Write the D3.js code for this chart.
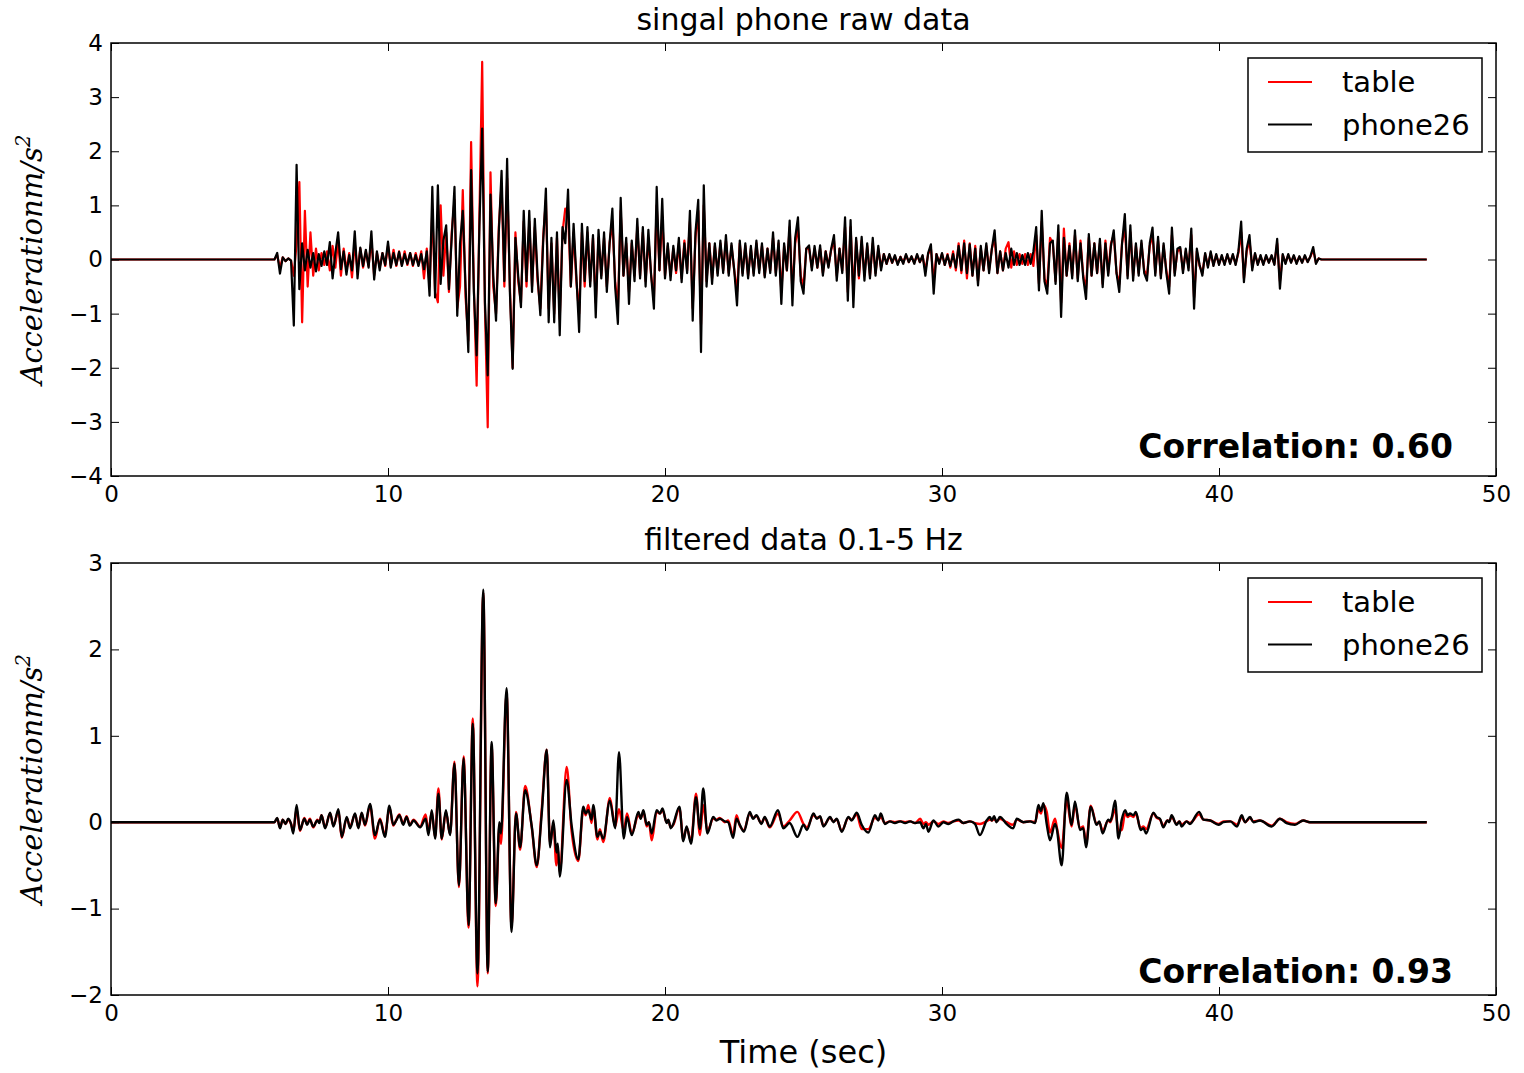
<!DOCTYPE html>
<html>
<head>
<meta charset="utf-8">
<script src="https://cdn.jsdelivr.net/npm/d3@7"></script>
<style>
body { margin: 0; background: #fff; }
text { font-family: "DejaVu Sans", sans-serif; fill: #000; }
</style>
</head>
<body>
<div id="myDiv"></div>
<script>
var recordStart = 0, recordEnd = 47.5;
var seriesNames = ["table", "phone26"];
var panelTitles = ["singal phone raw data", "filtered data 0.1-5 Hz"];
var correlations = ["0.60", "0.93"];
var xTicks = [0, 10, 20, 30, 40, 50];
var rawYTicks = [-4, -3, -2, -1, 0, 1, 2, 3, 4];
var filtYTicks = [-2, -1, 0, 1, 2, 3];

// raw signal, one value every 0.1 s from 6.0 s to 43.6 s (flat before and after)
var rawStart = 6.0, rawStep = 0.1;
var rawTable = [
  0.08, -0.15, 0.04, -0.03, 0.02, -0.02, -0.3, 0.3, 1.43, -1.16,
  0.9, -0.5, 0.5, -0.3, 0.2, -0.2, 0.12, -0.1, 0.15, -0.2,
  0.25, -0.15, 0.35, -0.3, 0.2, -0.2, 0.12, -0.33, 0.3, -0.2,
  0.2, -0.15, 0.15, -0.12, 0.35, -0.3, 0.12, -0.15, 0.12, -0.12,
  0.25, -0.12, 0.18, -0.12, 0.15, -0.1, 0.15, -0.1, 0.12, -0.12,
  0.12, -0.1, 0.15, -0.35, 0.2, -0.5, 0.9, -0.6, -0.79, 1.0,
  -0.3, 0.5, -0.6, 0.5, 1.1, -0.9, -0.5, 1.28, -0.7, -1.5,
  2.17, -0.5, -2.33, 0.8, 3.65, -0.9, -3.1, 1.61, -0.5, -1.0,
  0.6, 1.4, -0.5, 1.5, -0.5, -2.0, 0.5, -0.4, -0.8, 0.7,
  -0.5, 0.7, -0.5, 0.6, -0.4, -0.9, 0.4, 1.1, -0.9, 0.3,
  -1.0, 0.4, -1.1, 0.5, 0.94, 0.9, -0.5, 0.5, -0.4, -1.0,
  0.5, -0.5, 0.5, -0.4, 0.4, -0.8, 0.4, -0.3, 0.4, -0.5,
  0.3, 0.7, -0.4, -0.9, 0.9, -0.3, 0.3, -0.6, 0.3, -0.3,
  0.6, -0.3, 0.5, -0.4, 0.4, -0.3, -0.7, 1.0, -0.2, 0.8,
  -0.3, 0.25, -0.3, 0.2, -0.25, 0.3, -0.35, 0.35, -0.2, 0.7,
  -0.9, 0.4, 0.9, -1.2, 1.0, -0.4, 0.3, -0.35, 0.25, -0.25,
  0.3, -0.2, 0.35, -0.25, 0.25, -0.2, -0.6, 0.3, -0.25, 0.25,
  -0.3, 0.2, -0.25, 0.3, -0.2, 0.25, -0.3, 0.2, -0.2, 0.4,
  -0.25, 0.3, -0.6, 0.25, -0.2, 0.6, -0.6, 0.3, 0.6, -0.3,
  -0.5, 0.2, 0.2, -0.15, 0.2, -0.15, 0.2, -0.25, 0.15, -0.12,
  0.18, 0.35, -0.3, 0.2, -0.2, 0.6, -0.6, 0.6, -0.6, 0.35,
  -0.35, 0.35, -0.3, 0.25, -0.3, 0.3, -0.25, 0.2, -0.15, 0.1,
  -0.08, 0.08, -0.06, 0.06, -0.08, 0.05, -0.06, 0.08, -0.05, 0.05,
  -0.06, 0.08, -0.05, 0.06, -0.2, 0.1, 0.2, -0.4, 0.1, -0.06,
  0.1, -0.1, 0.1, -0.15, 0.15, -0.2, 0.3, -0.25, 0.35, -0.35,
  0.3, -0.3, 0.25, -0.4, 0.2, -0.2, 0.25, -0.2, 0.2, 0.4,
  -0.25, 0.15, -0.2, 0.2, 0.32, -0.15, 0.15, -0.1, 0.1, -0.08,
  0.1, -0.1, 0.1, -0.12, 0.45, -0.45, 0.7, -0.35, -0.5, 0.4,
  0.3, -0.4, 0.5, -0.8, 0.57, -0.3, 0.3, -0.3, 0.45, -0.35,
  0.35, -0.3, -0.55, 0.4, -0.3, 0.3, -0.25, 0.3, -0.45, 0.35,
  -0.25, 0.3, 0.45, -0.25, -0.45, 0.3, 0.6, -0.3, 0.5, -0.3,
  0.25, -0.25, 0.3, -0.2, -0.3, 0.25, 0.45, -0.25, 0.35, -0.3,
  0.25, -0.2, -0.5, 0.45, -0.25, 0.15, 0.2, -0.2, 0.15, -0.15,
  0.45, -0.7, 0.15, -0.12, -0.25, 0.1, -0.12, 0.12, -0.1, 0.08,
  -0.08, 0.06, -0.08, 0.08, -0.06, 0.08, -0.08, 0.12, 0.5, -0.35,
  0.15, 0.35, -0.15, 0.1, -0.08, 0.06, -0.08, 0.06, -0.05, 0.06,
  -0.08, 0.3, -0.4, 0.08, -0.06, 0.08, -0.05, 0.06, -0.06, 0.05,
  -0.05, 0.06, -0.04, 0.05, 0.18, -0.06, 0.02
];
var rawPhone = [
  0.12, -0.26, 0.04, -0.03, 0.02, -0.02, -1.22, 1.75, -0.55, 0.3,
  -0.2, 0.18, -0.15, 0.12, -0.22, 0.1, -0.12, 0.15, -0.1, 0.32,
  -0.35, 0.12, 0.5, -0.18, 0.15, -0.28, 0.08, -0.2, 0.52, -0.35,
  0.22, -0.12, 0.18, -0.15, 0.52, -0.37, 0.15, -0.2, 0.12, -0.1,
  0.33, -0.15, 0.12, -0.1, 0.14, -0.12, 0.1, -0.08, 0.12, -0.1,
  0.08, -0.12, 0.1, -0.18, 0.15, -0.67, 1.34, -0.7, 1.37, -0.45,
  0.35, 0.63, -0.55, 0.4, 1.34, -1.04, 0.3, 0.9, -0.5, -1.71,
  1.65, -0.6, -1.77, 0.6, 2.42, -0.8, -2.14, 1.2, -0.3, -1.13,
  0.5, 1.64, -0.4, 1.86, -0.6, -2.02, 0.4, -0.3, -0.88, 0.9,
  -0.4, 0.9, -0.6, 0.75, -0.3, -1.03, 0.3, 1.31, -1.16, 0.4,
  -1.16, 0.5, -1.4, 0.6, 0.3, 1.29, -0.5, 0.66, -0.3, -1.34,
  0.66, -0.4, 0.6, -0.5, 0.45, -1.07, 0.55, -0.35, 0.5, -0.6,
  0.3, 0.94, -0.5, -1.19, 1.14, -0.3, 0.4, -0.82, 0.35, -0.4,
  0.75, -0.35, 0.6, -0.5, 0.55, -0.3, -0.91, 1.34, -0.2, 1.12,
  -0.35, 0.3, -0.38, 0.25, -0.2, 0.4, -0.42, 0.3, -0.25, 0.9,
  -1.13, 0.5, 1.1, -1.71, 1.37, -0.5, 0.3, -0.45, 0.3, -0.3,
  0.35, -0.25, 0.45, -0.3, 0.3, -0.2, -0.85, 0.35, -0.3, 0.3,
  -0.35, 0.25, -0.3, 0.35, -0.25, 0.3, -0.33, 0.2, -0.25, 0.5,
  -0.3, 0.35, -0.82, 0.3, -0.2, 0.72, -0.85, 0.4, 0.78, -0.4,
  -0.63, 0.2, 0.26, -0.2, 0.25, -0.15, 0.26, -0.3, 0.15, -0.15,
  0.2, 0.45, -0.39, 0.2, -0.25, 0.78, -0.76, 0.73, -0.88, 0.4,
  -0.3, 0.42, -0.39, 0.3, -0.35, 0.4, -0.3, 0.25, -0.2, 0.1,
  -0.08, 0.1, -0.06, 0.08, -0.1, 0.05, -0.08, 0.1, -0.05, 0.06,
  -0.08, 0.1, -0.05, 0.08, -0.3, 0.12, 0.28, -0.63, 0.1, -0.08,
  0.12, -0.1, 0.08, -0.12, 0.1, -0.15, 0.25, -0.2, 0.3, -0.25,
  0.28, -0.3, 0.2, -0.48, 0.25, -0.2, 0.3, -0.25, 0.2, 0.54,
  -0.25, 0.15, -0.2, 0.12, -0.15, 0.2, -0.1, 0.12, -0.1, 0.08,
  -0.1, 0.12, -0.08, 0.15, 0.6, -0.57, 0.9, -0.4, -0.63, 0.3,
  0.35, -0.45, 0.63, -1.06, 0.4, -0.3, 0.25, -0.35, 0.54, -0.4,
  0.3, -0.35, -0.73, 0.47, -0.3, 0.3, -0.25, 0.38, -0.51, 0.3,
  -0.3, 0.25, 0.54, -0.25, -0.6, 0.3, 0.84, -0.35, 0.63, -0.39,
  0.3, -0.3, 0.35, -0.25, -0.39, 0.3, 0.59, -0.3, 0.42, -0.35,
  0.3, -0.25, -0.63, 0.59, -0.3, 0.2, 0.23, -0.25, 0.2, -0.2,
  0.57, -0.91, 0.2, -0.1, -0.3, 0.12, -0.15, 0.15, -0.12, 0.1,
  -0.1, 0.08, -0.1, 0.1, -0.08, 0.1, -0.1, 0.15, 0.7, -0.42,
  0.2, 0.45, -0.2, 0.12, -0.1, 0.08, -0.1, 0.08, -0.06, 0.08,
  -0.1, 0.38, -0.54, 0.1, -0.08, 0.1, -0.06, 0.08, -0.08, 0.06,
  -0.06, 0.08, -0.05, 0.06, 0.23, -0.08, 0.02
];

// filtered signal, turning points (sec)
var filtTime = [
  0, 5.9, 6.0, 6.1, 6.2, 6.3, 6.4, 6.5, 6.58, 6.7,
  6.82, 6.98, 7.08, 7.18, 7.3, 7.45, 7.52, 7.6, 7.73, 7.91,
  8.03, 8.21, 8.33, 8.51, 8.63, 8.81, 8.93, 9.05, 9.17, 9.35,
  9.53, 9.71, 9.89, 10.05, 10.19, 10.3, 10.41, 10.55, 10.67, 10.79,
  10.92, 11.16, 11.36, 11.46, 11.58, 11.7, 11.82, 11.94, 12.09, 12.24,
  12.4, 12.56, 12.73, 12.91, 13.06, 13.23, 13.44, 13.6, 13.74, 13.89,
  14.02, 14.08, 14.28, 14.46, 14.62, 14.77, 14.95, 15.19, 15.37, 15.55,
  15.73, 15.85, 15.97, 16.08, 16.13, 16.2, 16.45, 16.63, 16.87, 17.05,
  17.14, 17.23, 17.35, 17.41, 17.56, 17.65, 17.77, 18.01, 18.2, 18.34,
  18.51, 18.63, 18.8, 19.04, 19.12, 19.22, 19.34, 19.42, 19.52, 19.7,
  19.82, 19.91, 20.06, 20.12, 20.21, 20.3, 20.52, 20.66, 20.78, 20.94,
  21.12, 21.26, 21.38, 21.53, 21.74, 21.86, 21.98, 22.16, 22.28, 22.46,
  22.58, 22.7, 22.85, 23.06, 23.18, 23.3, 23.48, 23.6, 23.78, 24.08,
  24.27, 24.5, 24.78, 25.0, 25.12, 25.36, 25.48, 25.6, 25.72, 25.96,
  26.08, 26.2, 26.38, 26.62, 26.74, 26.92, 27.1, 27.34, 27.58, 27.7,
  27.79, 27.94, 28.12, 28.3, 28.49, 28.67, 28.85, 29.03, 29.21, 29.33,
  29.42, 29.51, 29.69, 29.87, 30.05, 30.23, 30.41, 30.6, 30.77, 31.01,
  31.19, 31.37, 31.61, 31.73, 31.8, 31.88, 31.97, 32.09, 32.33, 32.57,
  32.7, 32.94, 33.18, 33.36, 33.48, 33.57, 33.66, 33.78, 33.9, 34.08,
  34.14, 34.32, 34.5, 34.68, 34.8, 34.98, 35.1, 35.2, 35.37, 35.58,
  35.68, 35.8, 36.0, 36.07, 36.13, 36.25, 36.37, 36.49, 36.61, 36.7,
  36.79, 36.91, 37.0, 37.17, 37.27, 37.37, 37.63, 37.75, 37.87, 37.99,
  38.14, 38.2, 38.29, 38.47, 38.57, 38.65, 38.83, 38.95, 39.28, 39.44,
  39.68, 39.98, 40.16, 40.41, 40.65, 40.82, 40.94, 41.12, 41.24, 41.48,
  41.9, 42.2, 42.44, 42.74, 43.04, 43.28, 47.5
];
var filtTable = [
  0, 0, 0.04, -0.06, 0.03, -0.02, 0.03, -0.02, -0.1, 0.15,
  -0.1, 0.05, -0.02, 0.04, -0.06, 0.03, 0, 0.08, -0.06, 0.1,
  -0.04, 0.13, -0.18, 0.05, -0.05, 0.09, -0.06, 0.1, -0.04, 0.19,
  -0.19, 0.04, -0.15, 0.17, -0.04, 0.03, 0.09, -0.02, 0.07, -0.03,
  0.03, -0.05, 0.09, -0.12, 0.12, -0.17, 0.39, -0.2, 0.12, -0.14,
  0.7, -0.75, 0.76, -1.22, 1.2, -1.9, 2.66, -1.75, 0.88, -0.97,
  -0.05, -0.25, 1.5, -1.22, 0.12, -0.32, 0.42, -0.06, -0.52, 0.15,
  0.84, -0.25, -0.02, -0.5, -0.3, -0.58, 0.64, -0.11, -0.45, 0.15,
  0.08, 0.2, -0.01, 0.17, -0.2, -0.08, -0.23, 0.28, -0.05, 0.15,
  -0.1, 0.1, -0.13, 0.08, 0.05, 0.12, -0.05, 0, -0.21, 0.12,
  0.1, 0.14, 0, 0.02, -0.06, -0.03, 0.16, -0.2, -0.06, -0.22,
  0.33, -0.15, 0.2, -0.1, 0.04, 0.03, 0.05, 0, 0.02, -0.15,
  0.08, -0.04, -0.09, 0.1, 0.05, 0.07, -0.01, 0.05, -0.06, 0.1,
  -0.05, 0.02, 0.12, -0.02, -0.06, 0.08, 0.05, 0.06, -0.04, 0.05,
  0.01, 0.03, -0.1, 0.05, 0.03, 0.09, -0.08, -0.08, 0.05, 0.03,
  0.06, -0.01, 0.01, 0, 0.01, 0, 0.01, -0.01, 0.04, -0.02,
  0, -0.03, 0.01, -0.02, 0.01, -0.01, 0.01, 0.02, -0.01, 0.01,
  -0.01, -0.02, 0.01, 0.03, 0.02, 0.04, 0.01, 0.04, 0, -0.03,
  0.03, 0, 0.01, 0, 0.15, 0.1, 0.2, 0.12, -0.12, 0.04,
  -0.05, -0.3, 0.25, -0.05, 0.2, -0.07, -0.05, -0.25, 0.19, -0.02,
  0, -0.1, 0.02, 0, 0.04, 0.15, -0.1, -0.09, 0.1, 0.06,
  0.08, 0.06, 0.1, -0.07, -0.05, -0.08, 0.1, 0.05, 0.03, -0.04,
  0.02, 0.01, 0.06, -0.02, 0.01, -0.03, 0.01, -0.01, 0.09, 0.03,
  0.02, -0.02, 0.01, 0.01, -0.03, 0.06, 0, 0.05, 0.01, 0.02,
  -0.04, 0.04, 0, -0.02, 0.02, 0, 0
];
var filtPhone = [
  0, 0, 0.05, -0.07, 0.03, -0.02, 0.04, -0.02, -0.13, 0.2,
  -0.09, 0.04, -0.03, 0.03, -0.05, 0.02, -0.01, 0.08, -0.07, 0.11,
  -0.05, 0.15, -0.17, 0.06, -0.07, 0.1, -0.07, 0.11, -0.03, 0.21,
  -0.15, 0.03, -0.17, 0.19, -0.03, 0.02, 0.08, -0.03, 0.06, -0.04,
  0.02, -0.06, 0.04, -0.15, 0.14, -0.19, 0.33, -0.19, 0.14, -0.15,
  0.68, -0.73, 0.74, -1.19, 1.14, -1.75, 2.69, -1.73, 0.93, -0.94,
  0, -0.13, 1.55, -1.27, 0.1, -0.29, 0.37, -0.05, -0.5, 0.1,
  0.84, -0.29, 0.02, -0.35, -0.25, -0.63, 0.49, -0.04, -0.43, 0.18,
  0.1, 0.14, 0.03, 0.2, -0.17, -0.11, -0.19, 0.25, -0.07, 0.81,
  -0.19, 0.06, -0.15, 0.12, 0.04, 0.14, -0.03, 0, -0.13, 0.14,
  0.1, 0.16, -0.01, 0.03, -0.07, -0.02, 0.18, -0.22, -0.05, -0.25,
  0.29, -0.08, 0.39, -0.13, 0.06, 0.02, 0.04, 0.01, 0, -0.18,
  0.04, -0.03, -0.11, 0.12, 0.04, 0.08, -0.02, 0.06, -0.05, 0.14,
  -0.07, -0.01, -0.17, -0.03, -0.09, 0.1, 0.04, 0.07, -0.05, 0.06,
  0, 0.04, -0.11, 0.06, 0.02, 0.11, -0.03, -0.12, 0.08, 0.02,
  0.1, -0.02, 0.01, -0.01, 0.01, -0.01, 0.01, -0.01, 0, -0.07,
  -0.02, -0.11, 0.02, -0.05, 0, -0.02, 0.01, 0.03, -0.01, 0.01,
  -0.02, -0.15, 0.02, 0.06, 0.02, 0.07, 0, 0.06, -0.02, -0.07,
  0.04, 0, 0.01, -0.01, 0.2, 0.13, 0.22, -0.02, -0.21, -0.02,
  -0.07, -0.5, 0.34, -0.03, 0.24, -0.09, -0.07, -0.29, 0.18, -0.03,
  0.01, -0.13, 0.03, 0.01, 0.06, 0.25, -0.19, 0.03, 0.14, 0.08,
  0.1, 0.08, 0.12, -0.09, -0.07, -0.13, 0.11, 0.06, 0.04, -0.06,
  0.02, 0, 0.08, -0.03, 0.01, -0.05, 0.01, -0.02, 0.12, 0.03,
  0.02, -0.03, 0, 0.01, -0.05, 0.08, 0, 0.06, 0, 0.02,
  -0.05, 0.04, -0.01, -0.03, 0.02, 0, 0
];

var width = 1524, height = 1073;
var left = 111, right = 1496;
var colors = ["red", "black"];

function rawPoints(values) {
    var pts = [[recordStart, 0], [rawStart - rawStep, 0]];
    values.forEach(function(v, i) { pts.push([rawStart + i * rawStep, v]); });
    pts.push([rawStart + values.length * rawStep, 0], [recordEnd, 0]);
    return pts;
}

function filtPoints(values) {
    return filtTime.map(function(t, i) { return [t, values[i]]; });
}

var panels = [
    { top: 43, bottom: 476, domain: [-4, 4], ticks: rawYTicks, curve: d3.curveLinear, lw: 2.2,
      series: [rawPoints(rawTable), rawPoints(rawPhone)], title: panelTitles[0], corr: correlations[0], corrOff: 18, clip: "c0" },
    { top: 563, bottom: 995, domain: [-2, 3], ticks: filtYTicks, curve: d3.curveMonotoneX, lw: 2.4,
      series: [filtPoints(filtTable), filtPoints(filtPhone)], title: panelTitles[1], corr: correlations[1], corrOff: 12, clip: "c1" }
];

var svg = d3.select("#myDiv").append("svg").attr("width", width).attr("height", height)
    .style("display", "block").style("background", "#fff");

var x = d3.scaleLinear().domain([0, 50]).range([left, right]);

panels.forEach(function(p) {
    var y = d3.scaleLinear().domain(p.domain).range([p.bottom, p.top]);
    var g = svg.append("g");

    g.append("clipPath").attr("id", p.clip).append("rect")
        .attr("x", left).attr("y", p.top).attr("width", right - left).attr("height", p.bottom - p.top);

    var line = d3.line().x(function(d) { return x(d[0]); }).y(function(d) { return y(d[1]); }).curve(p.curve);

    g.selectAll(".trace").data(p.series).enter().append("path")
        .attr("clip-path", "url(#" + p.clip + ")")
        .attr("d", line)
        .attr("fill", "none")
        .attr("stroke", function(d, i) { return colors[i]; })
        .attr("stroke-width", p.lw)
        .attr("stroke-linejoin", "round");

    var xb = g.append("g").attr("transform", "translate(0," + p.bottom + ")")
        .call(d3.axisBottom(x).tickValues(xTicks).tickSizeInner(-8).tickSizeOuter(0).tickPadding(10).tickFormat(d3.format("d")));
    var xt = g.append("g").attr("transform", "translate(0," + p.top + ")")
        .call(d3.axisTop(x).tickValues(xTicks).tickSizeInner(-8).tickSizeOuter(0).tickFormat(""));
    var yl = g.append("g").attr("transform", "translate(" + left + ",0)")
        .call(d3.axisLeft(y).tickValues(p.ticks).tickSizeInner(-8).tickSizeOuter(0).tickPadding(8).tickFormat(d3.format("d")));
    var yr = g.append("g").attr("transform", "translate(" + right + ",0)")
        .call(d3.axisRight(y).tickValues(p.ticks).tickSizeInner(-8).tickSizeOuter(0).tickFormat(""));

    [xb, xt, yl, yr].forEach(function(a) {
        a.select(".domain").remove();
        a.selectAll("line").attr("stroke", "#000").attr("stroke-width", 1);
        a.selectAll("text").attr("font-size", 23).attr("font-family", "DejaVu Sans").attr("fill", "#000");
    });

    g.append("rect").attr("x", left).attr("y", p.top).attr("width", right - left).attr("height", p.bottom - p.top)
        .attr("fill", "none").attr("stroke", "#000").attr("stroke-width", 1.5);

    g.append("text").attr("x", (left + right) / 2).attr("y", p.top - 13)
        .attr("text-anchor", "middle").attr("font-size", 30)
        .text(p.title);

    g.append("text").attr("x", right - 43).attr("y", p.bottom - p.corrOff)
        .attr("text-anchor", "end").attr("font-size", 33).attr("font-weight", "bold")
        .text("Correlation: " + p.corr);

    var ylab = g.append("text")
        .attr("transform", "translate(42," + (p.top + p.bottom) / 2 + ") rotate(-90)")
        .attr("text-anchor", "middle")
        .style("font-family", "'DejaVu Serif', serif").style("font-style", "italic")
        .attr("font-size", 29);
    ylab.append("tspan").text("Accelerationm/s");
    ylab.append("tspan").attr("dy", -12).attr("font-size", 20).text("2");

    var leg = g.append("g").attr("transform", "translate(" + (right - 248) + "," + (p.top + 15) + ")");
    leg.append("rect").attr("width", 234).attr("height", 94)
        .attr("fill", "#fff").attr("stroke", "#000").attr("stroke-width", 1.5);
    var item = leg.selectAll(".item").data(seriesNames).enter().append("g")
        .attr("transform", function(d, i) { return "translate(0," + (24 + i * 42.5) + ")"; });
    item.append("line").attr("x1", 20).attr("x2", 64)
        .attr("stroke", function(d, i) { return colors[i]; }).attr("stroke-width", 2);
    item.append("text").attr("x", 94).attr("y", 10).attr("font-size", 29).text(function(d) { return d; });
});

svg.append("text").attr("x", (left + right) / 2).attr("y", 1063)
    .attr("text-anchor", "middle").attr("font-size", 32)
    .text("Time (sec)");
</script>
</body>
</html>
